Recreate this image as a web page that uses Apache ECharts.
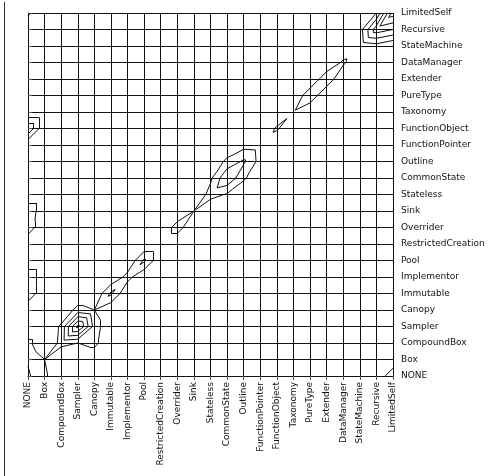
<!DOCTYPE html>
<html><head><meta charset="utf-8">
<script src="https://cdn.jsdelivr.net/npm/echarts@6/dist/echarts.min.js"></script>
<style>html,body{margin:0;padding:0;background:#fff}#c{width:495px;height:476px}</style>
</head><body><div id="c"></div>
<script>
const categories = ['NONE','Box','CompoundBox','Sampler','Canopy','Immutable','Implementor','Pool','RestrictedCreation','Overrider','Sink','Stateless','CommonState','Outline','FunctionPointer','FunctionObject','Taxonomy','PureType','Extender','DataManager','StateMachine','Recursive','LimitedSelf'];
// sparse matrix entries: [xIndex, yIndex, value]
const cells = [
  [0,0,2.15],[0,1,1.9],[0,2,1.3],[1,0,1.2],[1,1,1],
  [2,2,1.3],[3,2,1.0],[4,2,1.35],[2,3,1.2],[3,3,5.3],[4,3,1.6],[3,4,1.4],
  [4,4,1],[5,5,2.2],[6,6,1.4],[7,7,2.2],
  [9,9,1.54],[10,10,1],[11,11,1.4],[12,12,2.9],[13,13,2.17],[14,14,0.5],
  [12,13,1.3],[13,12,1.2],[11,12,0.8],[12,11,0.9],[13,14,0.6],[14,13,0.6],
  [15,15,1.15],[16,16,0.9],[17,17,1.8],[18,18,1.8],[19,19,1.2],
  [20,20,0.3],[21,21,3.6],[22,22,5.5],[21,22,1.0],[22,21,3.0],[20,21,0.5],[21,20,0.6],
  [0,5,1.9],[0,6,1.9],[0,9,1.7],[0,10,1.95],[0,15,3],[0,22,1.2],[22,0,1.9]
];
const levels = [1,2,3,4,5];

const n = categories.length;
const M = [];
for (let y = 0; y < n; y++) { M.push(new Array(n).fill(0)); }
cells.forEach(c => { M[c[1]][c[0]] = c[2]; });

const segs = [];
function tri(p, L) {
  const pts = [];
  for (let i = 0; i < 3; i++) {
    const A = p[i], B = p[(i + 1) % 3];
    if ((A[2] > L) !== (B[2] > L)) {
      const t = (L - A[2]) / (B[2] - A[2]);
      pts.push([A[0] + t * (B[0] - A[0]), A[1] + t * (B[1] - A[1])]);
    }
  }
  if (pts.length === 2) segs.push({ coords: pts });
}
levels.forEach(L => {
  for (let b = 0; b < n - 1; b++) for (let a = 0; a < n - 1; a++) {
    const p00 = [a, b, M[b][a]], p10 = [a + 1, b, M[b][a + 1]];
    const p11 = [a + 1, b + 1, M[b + 1][a + 1]], p01 = [a, b + 1, M[b + 1][a]];
    tri([p00, p10, p11], L); tri([p00, p11, p01], L);
  }
});

const font = { fontFamily: 'DejaVu Sans', fontSize: 9, color: '#111' };
const frameAxis = (gridIndex, position) => ({
  type: 'value', gridIndex, position, min: 0, max: 1,
  axisLine: { show: true, lineStyle: { color: '#333', width: 1 } },
  axisTick: { show: false }, axisLabel: { show: false }, splitLine: { show: false }
});
const chart = echarts.init(document.getElementById('c'), null, { renderer: 'canvas' });
chart.setOption({
  animation: false,
  backgroundColor: '#fff',
  grid: [
    { left: 28, right: 102, top: 13, bottom: 100 },
    { show: false, left: 4, top: 2, right: 0, bottom: 0 }
  ],
  xAxis: [{
    type: 'value', gridIndex: 0, min: 0, max: n - 1, interval: 1,
    axisLine: { show: true, lineStyle: { color: '#111' } },
    axisTick: { show: true, length: 4, lineStyle: { color: '#555' } },
    splitLine: { show: true, lineStyle: { color: '#111', width: 1 } },
    axisLabel: Object.assign({ rotate: 90, margin: 6, formatter: v => categories[v] || '' }, font)
  }, frameAxis(1, 'top')],
  yAxis: [{
    type: 'value', gridIndex: 0, position: 'right', min: 0, max: n - 1, interval: 1,
    axisLine: { show: true, lineStyle: { color: '#111' } },
    axisTick: { show: true, length: 4, lineStyle: { color: '#555' } },
    splitLine: { show: true, lineStyle: { color: '#111', width: 1 } },
    axisLabel: Object.assign({ margin: 8, formatter: v => categories[v] || '' }, font)
  }, frameAxis(1, 'left')],
  series: [{
    type: 'lines', coordinateSystem: 'cartesian2d', xAxisIndex: 0, yAxisIndex: 0, silent: true,
    lineStyle: { color: '#111', width: 1, opacity: 1 },
    data: segs
  }]
});
</script>
</body></html>
